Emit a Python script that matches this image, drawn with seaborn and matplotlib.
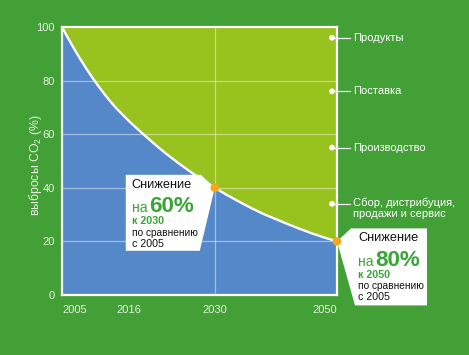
import matplotlib
matplotlib.use("Agg")
import matplotlib.pyplot as plt
import seaborn as sns
import pandas as pd
from matplotlib.patches import Polygon, Circle
from matplotlib.transforms import IdentityTransform
from matplotlib import font_manager

# ---------------- data ----------------
years = [2005, 2006, 2007, 2008, 2009, 2010, 2011, 2012, 2013, 2014,
         2016, 2018, 2020, 2022, 2024, 2026, 2028, 2030,
         2032, 2034, 2036, 2038, 2040, 2042, 2044, 2046, 2048, 2050]
emissions = [100, 95.8, 91.8, 88.0, 84.4, 81.0, 77.8, 74.8, 72.0, 69.4,
             64.8, 60.6, 56.6, 52.8, 49.3, 46.0, 42.9, 40.0,
             37.3, 34.8, 32.4, 30.2, 28.3, 26.4, 24.6, 22.9, 21.4, 20.0]
x_ticks = [2005, 2016, 2030, 2050]
y_ticks = [0, 20, 40, 60, 80, 100]
y_label = "выбросы CO$_2$ (%)"
stage_labels = ["Продукты", "Поставка", "Производство",
                "Сбор, дистрибуция,\nпродажи и сервис"]
stage_levels = [96, 76, 55, 34]
milestone_years = [2030, 2050]
milestone_values = [40, 20]
milestone_pct = ["60%", "80%"]
milestone_by = ["к 2030", "к 2050"]
headline = "Снижение"
prefix = "на"
compare_text = "по сравнению"
base_text = "с 2005"

# ---------------- style ----------------
BG = "#43a036"
BLUE = "#5588c8"
LIME = "#98c21d"
ORANGE = "#f6a81c"
GREEN_TXT = "#3aa537"
TICK = "#e8efe2"

sns.set_style("white")
names = {f.name for f in font_manager.fontManager.ttflist}
REG = "Liberation Sans" if "Liberation Sans" in names else "DejaVu Sans"
if "Liberation Sans Narrow" in names:
    NARROW, k = "Liberation Sans Narrow", 1.0
else:
    NARROW, k = REG, 0.92
plt.rcParams["font.family"] = [REG, "DejaVu Sans"]
plt.rcParams["mathtext.fontset"] = "custom"
plt.rcParams["mathtext.rm"] = REG
plt.rcParams["mathtext.it"] = REG

W, H = 469, 355
fig = plt.figure(figsize=(W / 100, H / 100), dpi=100, facecolor=BG)
ax = fig.add_axes([62 / W, (H - 295) / H, 275 / W, 268 / H])
ax.set_facecolor(LIME)

df = pd.DataFrame({"year": years, "emissions": emissions})
ax.fill_between(df["year"], 0, df["emissions"], color=BLUE, lw=0, zorder=1)
for y in y_ticks[1:-1]:
    ax.axhline(y, color="white", alpha=0.45, lw=0.9, zorder=1.5)
ax.axvline(milestone_years[0], color="white", alpha=0.45, lw=0.9, zorder=1.5)
sns.lineplot(data=df, x="year", y="emissions", color="white", lw=1.7,
             ax=ax, zorder=2)

ax.set_xlim(x_ticks[0], x_ticks[-1])
ax.set_ylim(y_ticks[0], y_ticks[-1])
ax.set_xticks(x_ticks)
ax.set_yticks(y_ticks)
ax.set_xticklabels([str(v) for v in x_ticks])
ax.set_xlabel("")
ax.set_ylabel("")
ax.tick_params(axis="both", length=0, colors=TICK, labelsize=8)
ax.tick_params(axis="x", pad=7)
ax.tick_params(axis="y", pad=5)
xl = ax.get_xticklabels()
xl[0].set_ha("left")
xl[-1].set_ha("right")
for s in ax.spines.values():
    s.set_color("white")
    s.set_linewidth(1.6)
    s.set_visible(True)
    s.set_zorder(3)

fig.text(35 / W, 1 - 165 / H, y_label, rotation=90, ha="center",
         va="center", color=TICK, fontsize=8.8)

ID = IdentityTransform()


def disp(x, y):
    return ax.transData.transform((x, y))


# right-hand stage labels
for lab, lev in zip(stage_labels, stage_levels):
    X, Y = disp(x_ticks[-1], lev)
    ax.add_patch(Circle((X - 5, Y), 2.2, transform=ID, color="white",
                        clip_on=False, zorder=5))
    ax.plot([X - 3, X + 13], [Y, Y], transform=ID, color="white", lw=0.9,
            clip_on=False, zorder=5)
    if "\n" in lab:
        ax.text(X + 16, Y + 6, lab, transform=ID, ha="left", va="top",
                color="white", fontsize=8, linespacing=1.05, clip_on=False)
    else:
        ax.text(X + 16, Y, lab, transform=ID, ha="left", va="center",
                color="white", fontsize=8, clip_on=False)

# callouts (offsets in pixels, image orientation: +dy = down)
shapes = [
    [(-89, -13), (-14, -13), (0, 0), (-15, 63), (-89, 63)],
    [(0, 0), (14, -13), (90, -13), (90, 64), (18, 64)],
]
text_dx = [-83, 21]
for i in range(2):
    X, Y = disp(milestone_years[i], milestone_values[i])
    poly = [(X + dx, Y - dy) for dx, dy in shapes[i]]
    ax.add_patch(Polygon(poly, closed=True, transform=ID, facecolor="white",
                         edgecolor="none", clip_on=False, zorder=4))
    ax.add_patch(Circle((X, Y), 3.6, transform=ID, color=ORANGE,
                        clip_on=False, zorder=6))
    tx = X + text_dx[i]
    ax.text(tx, Y + 3, headline, transform=ID, ha="left", va="center",
            fontsize=10 * k, color="#111111", family=NARROW, zorder=7,
            clip_on=False)
    ax.text(tx, Y - 24.5, prefix, transform=ID, ha="left", va="baseline",
            fontsize=11 * k, color=GREEN_TXT, family=NARROW, zorder=7,
            clip_on=False)
    ax.text(tx + 17, Y - 24.5, milestone_pct[i], transform=ID, ha="left",
            va="baseline", fontsize=17.5 * k, color=GREEN_TXT,
            family=NARROW, weight="bold", zorder=7, clip_on=False)
    ax.text(tx, Y - 33.5, milestone_by[i], transform=ID, ha="left",
            va="center", fontsize=8.3 * k, color=GREEN_TXT, family=NARROW,
            weight="bold", zorder=7, clip_on=False)
    ax.text(tx, Y - 45, compare_text, transform=ID, ha="left", va="center",
            fontsize=7.9 * k, color="#111111", family=NARROW, zorder=7,
            clip_on=False)
    ax.text(tx, Y - 56, base_text, transform=ID, ha="left", va="center",
            fontsize=8.3 * k, color="#111111", family=NARROW, zorder=7,
            clip_on=False)

fig.savefig("out.png", dpi=100, facecolor=BG)
